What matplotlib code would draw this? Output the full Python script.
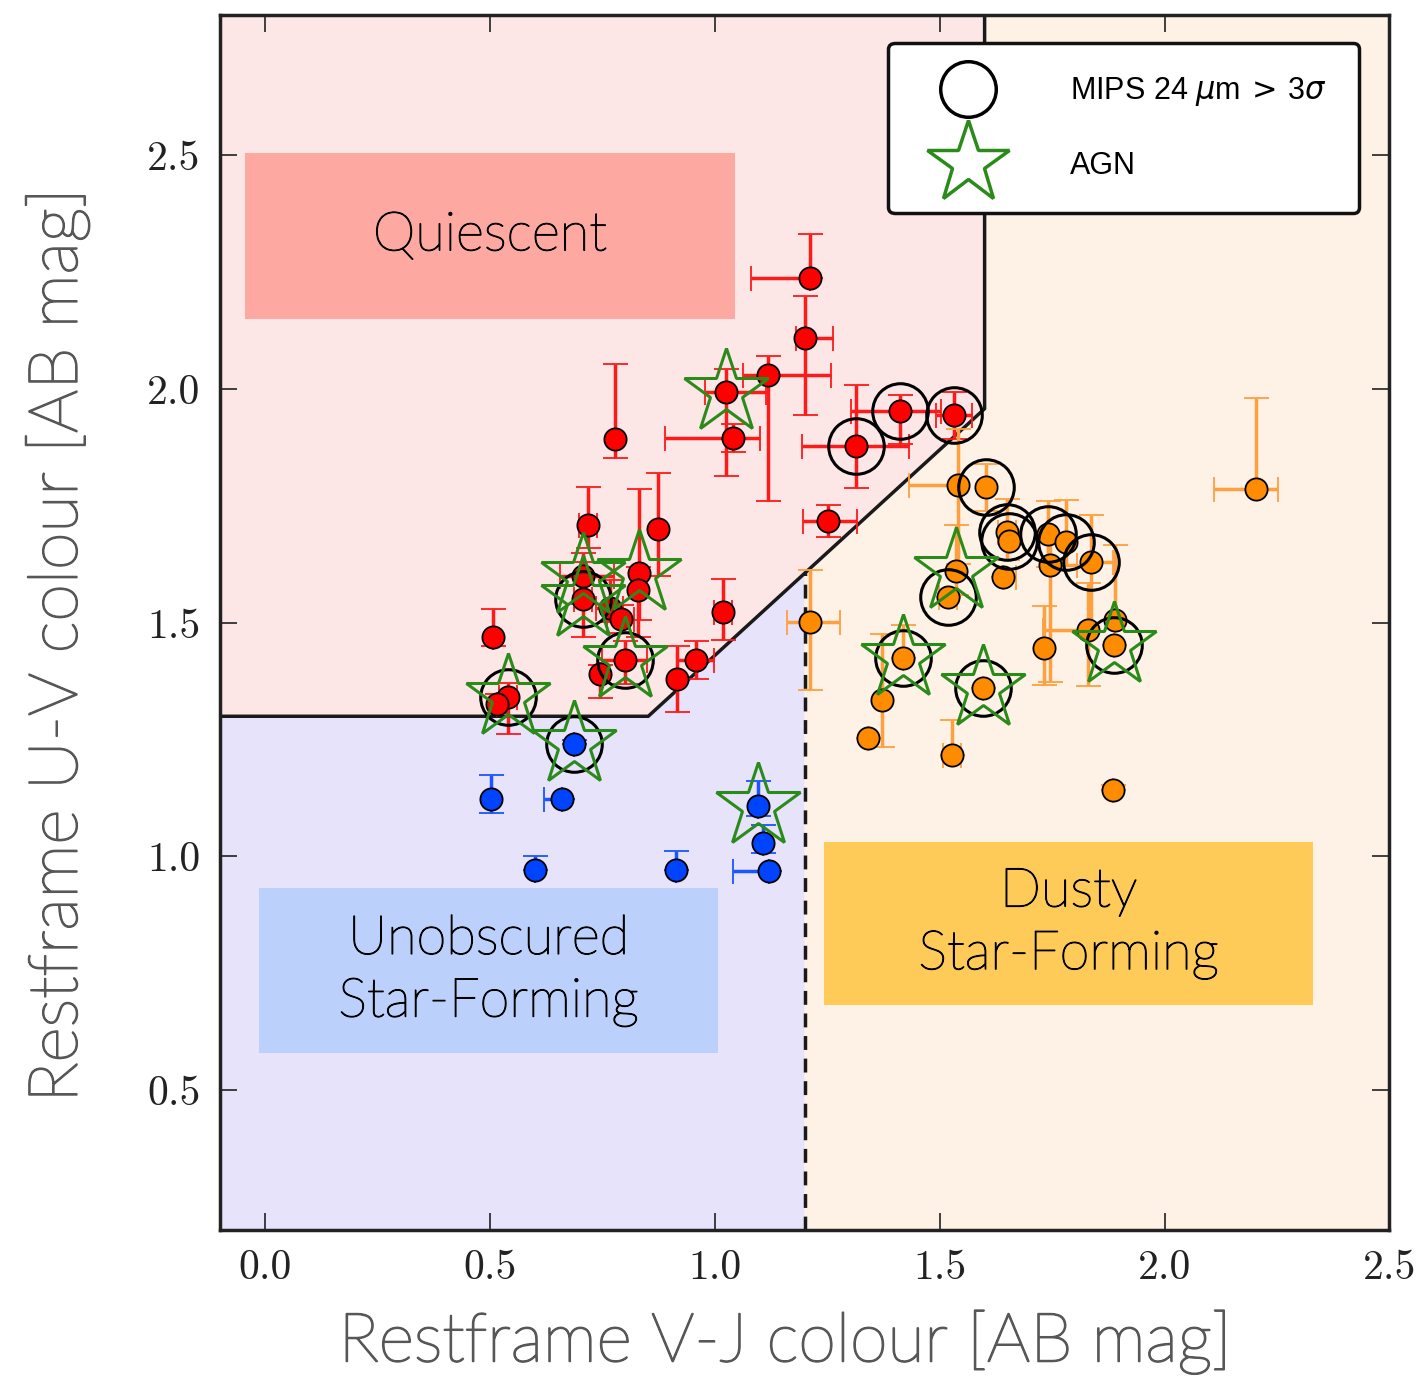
"""UVJ colour-colour diagram with quiescent / star-forming regions."""
import matplotlib
matplotlib.use("Agg")
import matplotlib.pyplot as plt
import matplotlib.patheffects as pe
from matplotlib.lines import Line2D
from matplotlib.patches import Rectangle

# ---- data ----------------------------------------------------------------
red_vj = [1.211, 1.200, 1.118, 1.024, 1.040, 0.778, 0.718, 0.873, 0.707, 0.831,
          0.707, 0.829, 0.767, 0.791, 1.018, 0.507, 0.800, 0.744, 0.958, 0.916,
          0.540, 0.515, 1.313, 1.413, 1.533, 1.251]
red_uv = [2.237, 2.110, 2.030, 1.994, 1.895, 1.893, 1.710, 1.700, 1.600, 1.607,
          1.550, 1.570, 1.532, 1.509, 1.524, 1.470, 1.420, 1.390, 1.420, 1.380,
          1.342, 1.327, 1.878, 1.953, 1.944, 1.718]
red_xlo = [0.13, 0.02, 0.055, 0.045, 0.15, 0.0, 0.02, 0.0, 0.05, 0.0,
           0.02, 0.0, 0.03, 0.03, 0.02, 0.0, 0.05, 0.0, 0.04, 0.0,
           0.02, 0.0, 0.12, 0.11, 0.04, 0.055]
red_xhi = [0.0, 0.063, 0.14, 0.09, 0.06, 0.0, 0.02, 0.0, 0.07, 0.0,
           0.02, 0.0, 0.03, 0.03, 0.02, 0.0, 0.05, 0.0, 0.04, 0.0,
           0.02, 0.0, 0.12, 0.09, 0.04, 0.065]
red_ylo = [0.0, 0.165, 0.27, 0.18, 0.03, 0.04, 0.05, 0.10, 0.06, 0.10,
           0.08, 0.10, 0.03, 0.03, 0.06, 0.02, 0.05, 0.05, 0.04, 0.07,
           0.08, 0.02, 0.09, 0.07, 0.05, 0.035]
red_yhi = [0.095, 0.09, 0.04, 0.05, 0.03, 0.16, 0.08, 0.12, 0.05, 0.18,
           0.08, 0.05, 0.06, 0.03, 0.07, 0.06, 0.04, 0.02, 0.04, 0.07,
           0.03, 0.02, 0.13, 0.035, 0.05, 0.035]
red_mips = [10, 16, 20, 22, 23, 24]
red_agn = [3, 8, 9, 10, 16, 20]

blue_vj = [0.687, 0.502, 0.660, 0.600, 0.913, 1.096, 1.107, 1.120]
blue_uv = [1.240, 1.122, 1.124, 0.972, 0.972, 1.107, 1.028, 0.970]
blue_xlo = [0.0, 0.0, 0.04, 0.0, 0.0, 0.0, 0.0, 0.08]
blue_xhi = [0.0, 0.0, 0.0, 0.0, 0.0, 0.0, 0.0, 0.0]
blue_ylo = [0.0, 0.03, 0.0, 0.0, 0.0, 0.02, 0.02, 0.0]
blue_yhi = [0.01, 0.053, 0.0, 0.03, 0.04, 0.055, 0.04, 0.0]
blue_mips = [0]
blue_agn = [0, 5]

orng_vj = [1.211, 1.540, 1.604, 1.649, 1.655, 1.740, 1.780, 1.745, 1.836, 1.640,
           1.536, 1.518, 1.829, 1.889, 1.887, 1.418, 1.373, 1.340, 1.596, 1.527,
           1.733, 1.885, 2.204]
orng_uv = [1.502, 1.795, 1.790, 1.694, 1.675, 1.690, 1.673, 1.624, 1.630, 1.598,
           1.610, 1.556, 1.485, 1.506, 1.453, 1.425, 1.335, 1.254, 1.361, 1.218,
           1.447, 1.143, 1.786]
orng_xlo = [0.05, 0.107, 0.0, 0.02, 0.0, 0.0, 0.0, 0.0, 0.0, 0.0,
            0.0, 0.02, 0.10, 0.0, 0.0, 0.0, 0.0, 0.0, 0.0, 0.02,
            0.0, 0.0, 0.093]
orng_xhi = [0.067, 0.0, 0.0, 0.02, 0.0, 0.0, 0.0, 0.06, 0.05, 0.03,
            0.0, 0.02, 0.0, 0.0, 0.0, 0.0, 0.0, 0.0, 0.0, 0.02,
            0.0, 0.0, 0.049]
orng_ylo = [0.145, 0.17, 0.05, 0.06, 0.0, 0.07, 0.05, 0.25, 0.15, 0.0,
            0.05, 0.0, 0.12, 0.0, 0.0, 0.0, 0.10, 0.0, 0.0, 0.0,
            0.08, 0.0, 0.0]
orng_yhi = [0.11, 0.12, 0.05, 0.07, 0.0, 0.07, 0.09, 0.05, 0.10, 0.0,
            0.10, 0.0, 0.10, 0.16, 0.0, 0.07, 0.14, 0.0, 0.0, 0.075,
            0.09, 0.01, 0.195]
orng_mips = [2, 3, 4, 5, 6, 8, 11, 14, 15, 18]
orng_agn = [10, 14, 15, 18]

# UVJ selection boundaries
UV_FLOOR = 1.3
VJ_CUT = 1.6
SLOPE, ICPT = 0.88, 0.55
VJ_SPLIT = 1.2

XLIM = (-0.1, 2.5)
YLIM = (0.2, 2.8)

PINK_BG = "#fde6e6"
BLUE_BG = "#e6e3fb"
CREAM_BG = "#fef1e6"
GREEN = "#2a8a1a"
LABEL_FONT = ["Lato", "DejaVu Sans"]
LABEL_GREY = "#575757"


def draw_group(ax, vj, uv, xlo, xhi, ylo, yhi, color, ecolor, mips, agn):
    ax.errorbar(vj, uv, xerr=[xlo, xhi], yerr=[ylo, yhi], fmt="o", ms=16,
                mfc=color, mec="black", mew=1.3, ecolor=ecolor, elinewidth=2.5,
                capsize=9, capthick=2.5, zorder=4)
    ax.plot([vj[i] for i in mips], [uv[i] for i in mips], ls="none", marker="o",
            ms=40, mfc="none", mec="black", mew=2.2, zorder=5)
    ax.plot([vj[i] for i in agn], [uv[i] for i in agn], ls="none", marker="*",
            ms=64, mfc="none", mec=GREEN, mew=2.2, zorder=6)


fig = plt.figure(figsize=(14.28, 13.84), dpi=100)
ax = fig.add_axes([0.154, 0.111, 0.819, 0.878])
ax.set_xlim(*XLIM)
ax.set_ylim(*YLIM)

# background regions
knee = (UV_FLOOR - ICPT) / SLOPE
top_knee = SLOPE * VJ_CUT + ICPT
split_y = SLOPE * VJ_SPLIT + ICPT
ax.fill([XLIM[0], knee, VJ_CUT, VJ_CUT, XLIM[0]],
        [UV_FLOOR, UV_FLOOR, top_knee, YLIM[1], YLIM[1]], color=PINK_BG, zorder=0, lw=0)
ax.fill([XLIM[0], knee, VJ_SPLIT, VJ_SPLIT, XLIM[0]],
        [UV_FLOOR, UV_FLOOR, split_y, YLIM[0], YLIM[0]], color=BLUE_BG, zorder=0, lw=0)
ax.fill([VJ_SPLIT, VJ_CUT, VJ_CUT, XLIM[1], XLIM[1], VJ_SPLIT],
        [split_y, top_knee, YLIM[1], YLIM[1], YLIM[0], YLIM[0]], color=CREAM_BG, zorder=0, lw=0)

ax.plot([XLIM[0], knee, VJ_CUT, VJ_CUT], [UV_FLOOR, UV_FLOOR, top_knee, YLIM[1]],
        color="#1a1a1a", lw=2.5, zorder=2)
ax.plot([VJ_SPLIT, VJ_SPLIT], [YLIM[0], split_y], color="#1a1a1a", lw=2.5,
        ls=(0, (4, 2.5)), zorder=2)

# region labels
boxes = [((-0.044, 2.15), 1.088, 0.356, "#fda9a2", "Quiescent"),
         ((-0.013, 0.579), 1.02, 0.353, "#bcd0fc", "Unobscured\nStar-Forming"),
         ((1.244, 0.682), 1.085, 0.35, "#fecb58", "Dusty\nStar-Forming")]
for (x0, y0), w, h, c, txt in boxes:
    ax.add_patch(Rectangle((x0, y0), w, h, facecolor=c, edgecolor="none", zorder=1))
    ax.text(x0 + w / 2, y0 + h / 2, txt, ha="center", va="center", fontsize=39,
            family=LABEL_FONT, fontweight="light", color="black",
            linespacing=1.35, zorder=1.5,
            path_effects=[pe.withStroke(linewidth=0.9, foreground="black")])

draw_group(ax, red_vj, red_uv, red_xlo, red_xhi, red_ylo, red_yhi,
           "#ff0000", "#ff1a1a", red_mips, red_agn)
draw_group(ax, blue_vj, blue_uv, blue_xlo, blue_xhi, blue_ylo, blue_yhi,
           "#0044ff", "#1a55ff", blue_mips, blue_agn)
draw_group(ax, orng_vj, orng_uv, orng_xlo, orng_xhi, orng_ylo, orng_yhi,
           "#ff8c00", "#ffa040", orng_mips, orng_agn)

# axes styling
ax.set_xticks([0.0, 0.5, 1.0, 1.5, 2.0, 2.5])
ax.set_yticks([0.5, 1.0, 1.5, 2.0, 2.5])
ax.tick_params(direction="in", length=12, width=1.2, top=True, right=True,
               labelsize=30, pad=14, colors="#222222")
for lab in ax.get_xticklabels() + ax.get_yticklabels():
    lab.set_family("cmr10")
for sp in ax.spines.values():
    sp.set_linewidth(2.5)
    sp.set_color("#222222")

label_fx = [pe.withStroke(linewidth=1.3, foreground=LABEL_GREY)]
ax.set_xlabel("Restframe V-J colour [AB mag]", fontsize=49, family=LABEL_FONT,
              fontweight="light", color=LABEL_GREY, labelpad=16, path_effects=label_fx)
ax.set_ylabel("Restframe U-V colour [AB mag]", fontsize=49, family=LABEL_FONT,
              fontweight="light", color=LABEL_GREY, labelpad=42, path_effects=label_fx)
ax.xaxis.label.set_x(0.483)
ax.yaxis.label.set_y(0.481)

handles = [Line2D([], [], ls="none", marker="o", ms=40, mfc="none", mec="black", mew=2.5),
           Line2D([], [], ls="none", marker="*", ms=62, mfc="none", mec=GREEN, mew=2.5)]
leg = ax.legend(handles, [r"MIPS 24 $\mu$m$\,>\,$3$\sigma$", "AGN"], loc="upper right",
                bbox_to_anchor=(0.974, 0.977), fontsize=22, frameon=True, fancybox=True,
                framealpha=1, edgecolor="#111111", handlelength=3.1, handletextpad=1.8,
                labelspacing=1.4, borderpad=1.05, borderaxespad=0)
leg.get_frame().set_linewidth(2.5)
leg.set_zorder(10)
for t in leg.get_texts():
    t.set_family(["Liberation Sans", "DejaVu Sans"])

fig.savefig("out.png", dpi=100)
